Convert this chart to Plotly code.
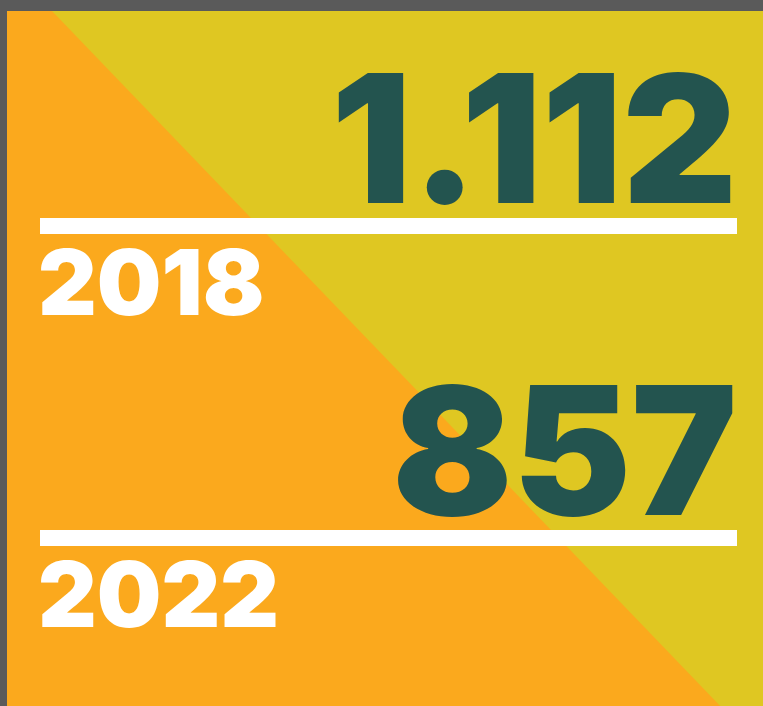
import plotly.graph_objects as go

# ---- data ----
years = ["2018", "2022"]
values = [1112, 857]
value_labels = ["1.112", "857"]

# ---- style ----
W, H = 763, 706
BG = "#5a5a5a"
ORANGE = "#FBA91D"
YELLOW = "#DFC722"
GREEN = "#23544F"
WHITE = "#FFFFFF"
FONT = "Inter"

panel_left, panel_top = 7, 11
diag_top_x, diag_bot_x = 52, 720
bar_x0, bar_x1 = 40, 737
bar_tops = [218, 530]
bar_h = 16
big_size = 178
year_size = 91

fig = go.Figure()

shapes = [
    dict(type="rect", xref="x", yref="y", x0=panel_left, x1=W + 5, y0=panel_top, y1=H + 5,
         fillcolor=ORANGE, line=dict(width=0), layer="below"),
    dict(type="path", xref="x", yref="y",
         path=f"M {diag_top_x},{panel_top} L {W + 5},{panel_top} L {W + 5},{H + 5} L {diag_bot_x + 5},{H + 5} Z",
         fillcolor=YELLOW, line=dict(width=0), layer="below"),
]
for t in bar_tops:
    shapes.append(dict(type="rect", xref="x", yref="y", x0=bar_x0, x1=bar_x1, y0=t, y1=t + bar_h,
                       fillcolor=WHITE, line=dict(width=0), layer="below"))

annotations = []
for yr, lab, t in zip(years, value_labels, bar_tops):
    # value: baseline ~12px above the bar
    annotations.append(dict(x=bar_x1 + 2, y=t - 2 + 0.18 * big_size, xref="x", yref="y", text=lab,
                            showarrow=False, xanchor="right", yanchor="bottom",
                            font=dict(family=FONT, size=big_size, color=GREEN, weight=900)))
    # year: baseline ~98px below bar top
    annotations.append(dict(x=bar_x0 - 4, y=t + 105 + 0.18 * year_size, xref="x", yref="y", text=yr,
                            showarrow=False, xanchor="left", yanchor="bottom",
                            font=dict(family=FONT, size=year_size, color=WHITE, weight=900)))

fig.add_trace(go.Scatter(x=[0, W], y=[0, H], mode="markers", marker=dict(opacity=0),
                         hoverinfo="skip", showlegend=False))

fig.update_layout(
    width=W, height=H, margin=dict(l=0, r=0, t=0, b=0),
    paper_bgcolor=BG, plot_bgcolor=BG,
    shapes=shapes, annotations=annotations, showlegend=False,
    xaxis=dict(range=[0, W], visible=False, fixedrange=True),
    yaxis=dict(range=[H, 0], visible=False, fixedrange=True),
)

fig.write_html("out.html", config={"displayModeBar": False},
               post_script="document.body.style.margin='0';")
